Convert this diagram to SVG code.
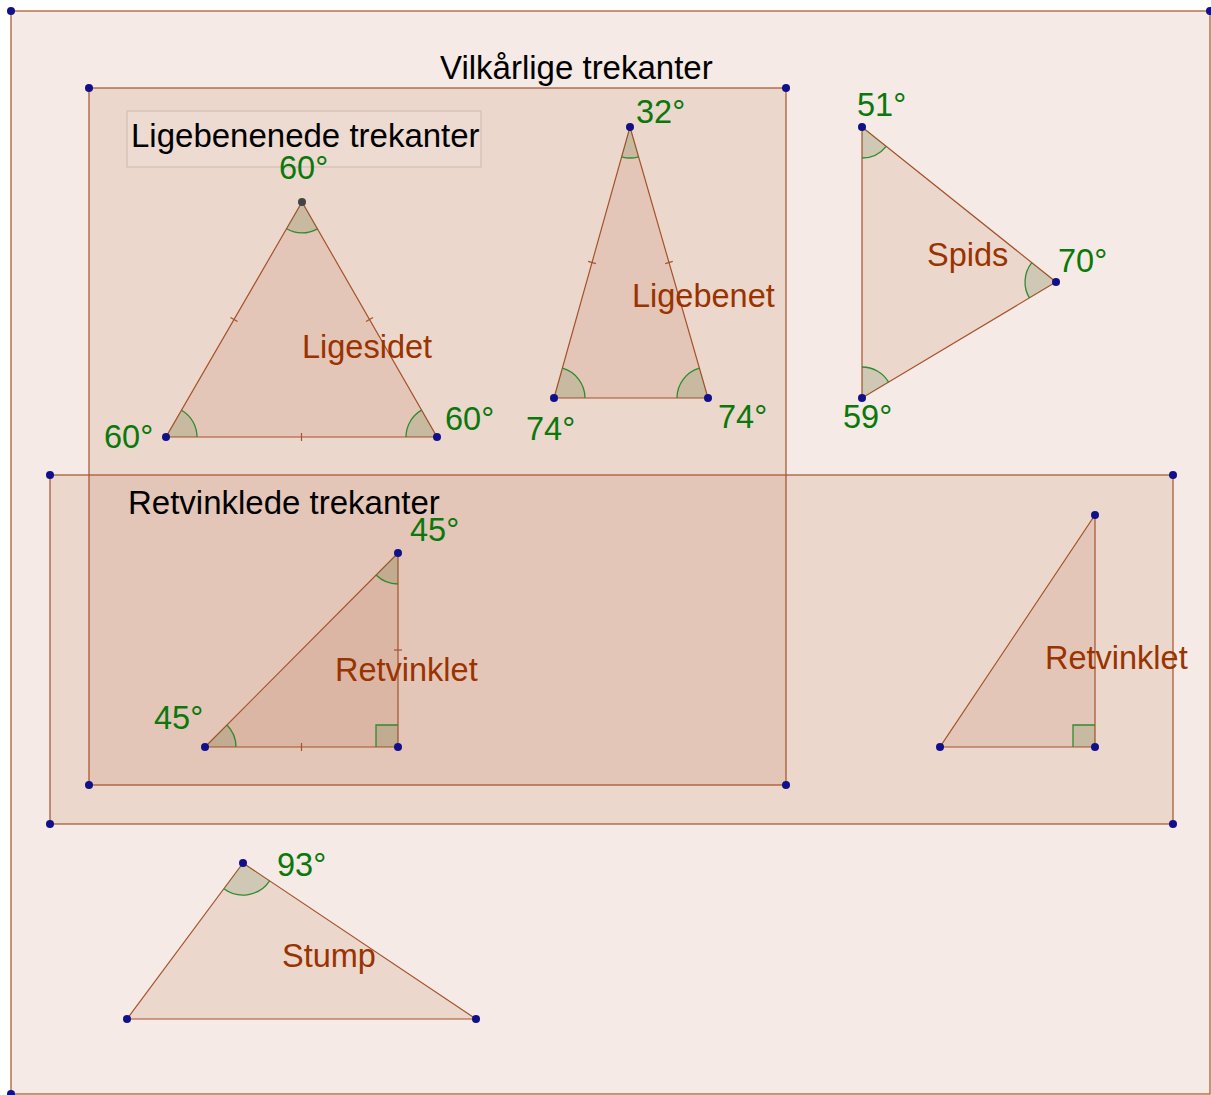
<svg xmlns="http://www.w3.org/2000/svg" width="1211" height="1095" viewBox="0 0 1211 1095">
<style>
.poly{fill:rgb(153,51,0);fill-opacity:0.1;stroke:#a5532a;stroke-width:1.2}
.ang{fill:rgb(0,100,0);fill-opacity:0.12;stroke:none}
.arc{fill:none;stroke:#2e8b2e;stroke-width:1.3}
.tick{stroke:#a5532a;stroke-width:1.2}
.pt{fill:#10108a}
.g{font-family:"Liberation Sans",Arial,sans-serif;font-size:32.5px;fill:#0a780a}
.b{font-family:"Liberation Sans",Arial,sans-serif;font-size:32.5px;fill:#993300}
.k{font-family:"Liberation Sans",Arial,sans-serif;font-size:33px;fill:#000}
</style>
<rect width="1211" height="1095" fill="#fff"/>
<g id="outer"><rect class="poly" x="11" y="11" width="1199" height="1083"/></g>
<g id="vilkaarlige"><rect class="poly" x="89" y="88" width="697" height="697"/><text class="k" x="440" y="79">Vilkårlige trekanter</text></g>
<g id="retvinklede"><rect class="poly" x="50" y="475" width="1123" height="349"/><text class="k" x="128" y="514">Retvinklede trekanter</text></g>
<g id="ligebenenede"><rect x="127" y="111" width="354" height="56" fill="#fff" fill-opacity="0.08" stroke="#cbb9b1" stroke-width="1"/><text class="k" x="131" y="147">Ligebenenede trekanter</text></g>

<g id="ligesidet">
<polygon class="poly" points="166,437 437,437 302,202"/>
<path class="ang" d="M302,202 L286.5,228.8 A31,31 0 0 0 317.4,228.9 Z"/><path class="arc" d="M286.5,228.8 A31,31 0 0 0 317.4,228.9"/>
<path class="ang" d="M166,437 L197,437 A31,31 0 0 0 181.5,410.2 Z"/><path class="arc" d="M197,437 A31,31 0 0 0 181.5,410.2"/>
<path class="ang" d="M437,437 L406,437 A31,31 0 0 1 421.6,410.1 Z"/><path class="arc" d="M406,437 A31,31 0 0 1 421.6,410.1"/>
<line class="tick" x1="230.5" y1="317.5" x2="237.5" y2="321.5"/><line class="tick" x1="366" y1="321.5" x2="373" y2="317.5"/><line class="tick" x1="301.5" y1="433" x2="301.5" y2="441"/>
<text class="g" x="279" y="179">60°</text><text class="g" x="104" y="448">60°</text><text class="g" x="445" y="430">60°</text>
<text class="b" x="302" y="358">Ligesidet</text>
<circle cx="302" cy="202" r="4" fill="#444"/><circle class="pt" cx="166" cy="437" r="4"/><circle class="pt" cx="437" cy="437" r="4"/>
</g>

<g id="ligebenet">
<polygon class="poly" points="554,398 708,398 630,127"/>
<path class="ang" d="M630,127 L621.6,156.8 A31,31 0 0 0 638.6,156.8 Z"/><path class="arc" d="M621.6,156.8 A31,31 0 0 0 638.6,156.8"/>
<path class="ang" d="M554,398 L585,398 A31,31 0 0 0 562.4,368.2 Z"/><path class="arc" d="M585,398 A31,31 0 0 0 562.4,368.2"/>
<path class="ang" d="M708,398 L677,398 A31,31 0 0 1 699.4,368.2 Z"/><path class="arc" d="M677,398 A31,31 0 0 1 699.4,368.2"/>
<line class="tick" x1="588.1" y1="261.4" x2="595.9" y2="263.6"/><line class="tick" x1="665.2" y1="263.6" x2="672.8" y2="261.4"/>
<text class="g" x="636" y="123">32°</text><text class="g" x="526" y="440">74°</text><text class="g" x="718" y="428">74°</text>
<text class="b" x="632" y="307">Ligebenet</text>
<circle class="pt" cx="630" cy="127" r="4"/><circle class="pt" cx="554" cy="398" r="4"/><circle class="pt" cx="708" cy="398" r="4"/>
</g>

<g id="spids">
<polygon class="poly" points="862,127 1056,282 862,398"/>
<path class="ang" d="M862,127 L862,158 A31,31 0 0 0 886.2,146.3 Z"/><path class="arc" d="M862,158 A31,31 0 0 0 886.2,146.3"/>
<path class="ang" d="M862,398 L862,367 A31,31 0 0 1 888.6,382.1 Z"/><path class="arc" d="M862,367 A31,31 0 0 1 888.6,382.1"/>
<path class="ang" d="M1056,282 L1031.8,262.7 A31,31 0 0 0 1029.4,297.9 Z"/><path class="arc" d="M1031.8,262.7 A31,31 0 0 0 1029.4,297.9"/>
<text class="g" x="857" y="116">51°</text><text class="g" x="1058" y="272">70°</text><text class="g" x="843" y="428">59°</text>
<text class="b" x="927" y="266">Spids</text>
<circle class="pt" cx="862" cy="127" r="4"/><circle class="pt" cx="1056" cy="282" r="4"/><circle class="pt" cx="862" cy="398" r="4"/>
</g>

<g id="retvinklet1">
<polygon class="poly" points="205,747 398,747 398,553"/>
<path class="ang" d="M205,747 L236,747 A31,31 0 0 0 226.9,725 Z"/><path class="arc" d="M236,747 A31,31 0 0 0 226.9,725"/>
<path class="ang" d="M398,553 L398,584 A31,31 0 0 1 376.1,575 Z"/><path class="arc" d="M398,584 A31,31 0 0 1 376.1,575"/>
<rect class="ang" x="376" y="725" width="22" height="22"/><path class="arc" d="M376,747 V725 H398"/>
<line class="tick" x1="301.5" y1="743" x2="301.5" y2="751"/><line class="tick" x1="394" y1="650" x2="402" y2="650"/>
<text class="g" x="410" y="541">45°</text><text class="g" x="154" y="729">45°</text>
<text class="b" x="335" y="681">Retvinklet</text>
<circle class="pt" cx="205" cy="747" r="4"/><circle class="pt" cx="398" cy="747" r="4"/><circle class="pt" cx="398" cy="553" r="4"/>
</g>

<g id="retvinklet2">
<polygon class="poly" points="940,747 1095,747 1095,515"/>
<rect class="ang" x="1073" y="725" width="22" height="22"/><path class="arc" d="M1073,747 V725 H1095"/>
<text class="b" x="1045" y="669">Retvinklet</text>
<circle class="pt" cx="940" cy="747" r="4"/><circle class="pt" cx="1095" cy="747" r="4"/><circle class="pt" cx="1095" cy="515" r="4"/>
</g>

<g id="stump">
<polygon class="poly" points="127,1019 476,1019 243,863"/>
<path class="ang" d="M243,863 L223.9,888.7 A32,32 0 0 0 269.6,880.8 Z"/><path class="arc" d="M223.9,888.7 A32,32 0 0 0 269.6,880.8"/>
<text class="g" x="277" y="876">93°</text>
<text class="b" x="282" y="967">Stump</text>
<circle class="pt" cx="243" cy="863" r="4"/><circle class="pt" cx="127" cy="1019" r="4"/><circle class="pt" cx="476" cy="1019" r="4"/>
</g>

<g id="corners">
<circle class="pt" cx="11" cy="11" r="4"/><circle class="pt" cx="1210" cy="11" r="4"/><circle class="pt" cx="11" cy="1094" r="4"/>
<circle class="pt" cx="89" cy="88" r="4"/><circle class="pt" cx="786" cy="88" r="4"/><circle class="pt" cx="89" cy="785" r="4"/><circle class="pt" cx="786" cy="785" r="4"/>
<circle class="pt" cx="50" cy="475" r="4"/><circle class="pt" cx="1173" cy="475" r="4"/><circle class="pt" cx="50" cy="824" r="4"/><circle class="pt" cx="1173" cy="824" r="4"/>
</g>
<g id="connectors"/>
</svg>
